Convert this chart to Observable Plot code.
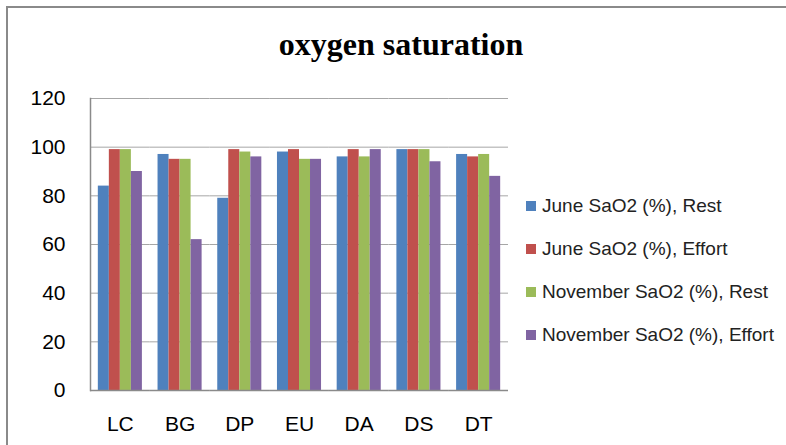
<!DOCTYPE html>
<html>
<head>
<meta charset="utf-8">
<script src="https://cdn.jsdelivr.net/npm/d3@7"></script>
<script src="https://cdn.jsdelivr.net/npm/@observablehq/plot@0.6"></script>
<style>
  html, body { margin: 0; padding: 0; background: #fff; }
  #wrap { position: relative; width: 786px; height: 445px; overflow: hidden; }
  #border { position: absolute; left: 6px; top: 6px; width: 900px; height: 600px;
            border-left: 2px solid #8a8a8a; border-top: 2px solid #8a8a8a; }
  #title { position: absolute; left: 0; width: 802px; top: 24px; text-align: center;
           font-family: "Liberation Serif", "Times New Roman", serif; font-weight: bold;
           font-size: 32px; color: #000; line-height: 40px; }
  #chart { position: absolute; left: 0; top: 0; }
  #legend { position: absolute; left: 526px; top: 184px;
            font-family: "Liberation Sans", Arial, sans-serif; font-size: 19px; color: #222; }
  .item { display: flex; align-items: center; height: 43px; line-height: 43px; }
  .sw { width: 10px; height: 10px; margin-right: 6px; }
</style>
</head>
<body>
<div id="wrap">
  <div id="border"></div>
  <div id="chart"></div>
  <div id="title">oxygen saturation</div>
  <div id="legend"></div>
</div>
<script>
const categories = ["LC", "BG", "DP", "EU", "DA", "DS", "DT"];
const seriesNames = ["June SaO2 (%), Rest", "June SaO2 (%), Effort", "November SaO2 (%), Rest", "November SaO2 (%), Effort"];
const juneRest     = [84, 97, 79, 98, 96, 99, 97];
const juneEffort   = [99, 95, 99, 99, 99, 99, 96];
const novRest      = [99, 95, 98, 95, 96, 99, 97];
const novEffort    = [90, 62, 96, 95, 99, 94, 88];
const seriesColors = ["#4F81BD", "#C0504D", "#9BBB59", "#8064A2"];
const yTicks = [0, 20, 40, 60, 80, 100, 120];

const seriesValues = [juneRest, juneEffort, novRest, novEffort];
const table = [];
categories.forEach((c, i) => {
  seriesNames.forEach((s, j) => table.push({cat: c, series: s, value: seriesValues[j][i]}));
});

const chart = Plot.plot({
  width: 786,
  height: 445,
  marginLeft: 90,
  marginRight: 278,
  marginTop: 98,
  marginBottom: 55,
  style: {fontFamily: "Liberation Sans, Arial, sans-serif", fontSize: "21px", color: "#000", background: "transparent"},
  fx: {domain: categories, padding: 0, round: false, axis: "bottom", tickSize: 0, tickPadding: 26, label: null},
  x: {domain: seriesNames, paddingInner: 0, paddingOuter: 0.71, round: false, axis: null},
  y: {domain: [0, 120], ticks: yTicks, tickSize: 0, tickPadding: 25, label: null, tickFormat: d => String(d)},
  color: {domain: seriesNames, range: seriesColors},
  marks: [
    Plot.ruleY(yTicks, {stroke: "#a6a6a6", strokeWidth: 1}),
    Plot.barY(table, {fx: "cat", x: "series", y: "value", fill: "series"}),
    Plot.ruleY([0], {stroke: "#8a8a8a", strokeWidth: 1.5}),
    Plot.frame({anchor: "left", facetAnchor: "left", stroke: "#8a8a8a", strokeWidth: 1.5})
  ]
});
document.getElementById("chart").appendChild(chart);

const legend = document.getElementById("legend");
seriesNames.forEach((s, j) => {
  const item = document.createElement("div");
  item.className = "item";
  const sw = document.createElement("div");
  sw.className = "sw";
  sw.style.background = seriesColors[j];
  const t = document.createElement("span");
  t.textContent = s;
  item.appendChild(sw);
  item.appendChild(t);
  legend.appendChild(item);
});
</script>
</body>
</html>
